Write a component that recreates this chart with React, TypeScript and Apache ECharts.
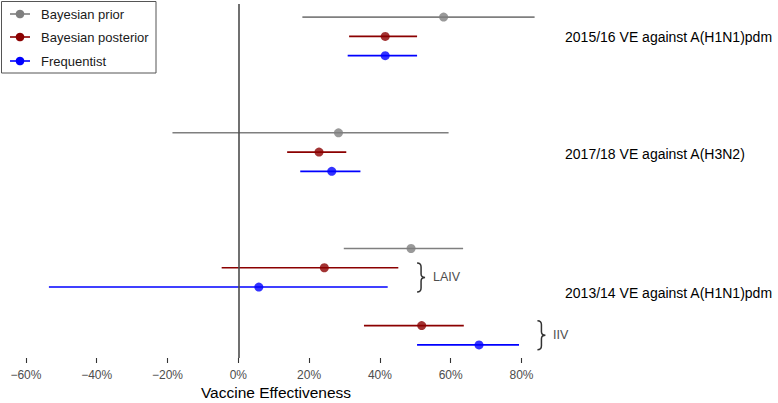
import React, { useEffect, useRef } from "react";
import * as echarts from "echarts";

const seriesNames = ["Bayesian prior", "Bayesian posterior", "Frequentist"];
const seriesColors = ["#7f7f7f", "#8b0000", "#0000ff"];

// rows (top = 0) for each estimate
const priorRows = [0, 6, 12];
const priorMean = [58.0, 28.3, 48.8];
const priorLow = [18.1, -18.6, 29.8];
const priorHigh = [83.7, 59.4, 63.5];

const posteriorRows = [1, 7, 13, 16];
const posteriorMean = [41.5, 22.8, 24.3, 51.8];
const posteriorLow = [31.3, 13.8, -4.7, 35.5];
const posteriorHigh = [50.5, 30.5, 45.2, 63.7];

const freqRows = [2, 8, 14, 17];
const freqMean = [41.5, 26.4, 5.8, 68.0];
const freqLow = [30.9, 17.5, -53.5, 50.5];
const freqHigh = [50.5, 34.5, 42.2, 79.3];

const groupLabels = [
  "2015/16 VE against A(H1N1)pdm",
  "2017/18 VE against A(H3N2)",
  "2013/14 VE against A(H1N1)pdm",
];
const groupLabelRows = [1.05, 7.1, 14.3];
const groupLabelX = 92.3;

const vaccineLabels = ["LAIV", "IIV"];
const vaccineBraceRows = [13.5, 16.5];
const vaccineBraceX = [50.5, 84.5];
const vaccineLabelX = [55.0, 88.9];

const xMin = -60;
const xMax = 80;
const xStep = 20;
const yMin = -0.68;
const yMax = 17.68;

const FONT = "'Liberation Sans', Arial, Helvetica, sans-serif";

const groups = [
  { rows: priorRows, mean: priorMean, low: priorLow, high: priorHigh },
  { rows: posteriorRows, mean: posteriorMean, low: posteriorLow, high: posteriorHigh },
  { rows: freqRows, mean: freqMean, low: freqLow, high: freqHigh },
];

const BRACE_D =
  "M0,-14.5 C2.8,-14.5 4,-13.2 4,-10.5 L4,-3.5 C4,-1.2 5.3,0 8,0 C5.3,0 4,1.2 4,3.5 L4,10.5 C4,13.2 2.8,14.5 0,14.5";
echarts.graphic.registerShape("brace", echarts.graphic.extendPath(BRACE_D, {}) as any);

export default function App() {
  const ref = useRef<HTMLDivElement>(null);

  useEffect(() => {
    document.body.style.margin = "0";
    if (!ref.current) return;
    const chart = echarts.init(ref.current, undefined, { renderer: "svg" });

    const series: any[] = [];
    // vertical reference line at 0
    series.push({
      type: "scatter",
      data: [],
      silent: true,
      markLine: {
        silent: true,
        symbol: ["none", "none"],
        label: { show: false },
        lineStyle: { color: "#4d4d4d", width: 1.6, type: "solid" },
        data: [{ xAxis: 0 }],
      },
    });

    groups.forEach((g, gi) => {
      const color = seriesColors[gi];
      series.push({
        type: "custom",
        name: seriesNames[gi] + " interval",
        clip: false,
        silent: true,
        data: g.rows.map((r, i) => [g.low[i], g.high[i], r]),
        encode: { x: [0, 1], y: 2 },
        renderItem: (params: any, api: any) => {
          const a = api.coord([api.value(0), api.value(2)]);
          const b = api.coord([api.value(1), api.value(2)]);
          return {
            type: "line",
            shape: { x1: a[0], y1: a[1], x2: b[0], y2: b[1] },
            style: { stroke: color, lineWidth: 1.6 },
          };
        },
      });
      series.push({
        type: "scatter",
        name: seriesNames[gi],
        symbol: "circle",
        symbolSize: 9,
        silent: true,
        itemStyle: { color },
        data: g.rows.map((r, i) => [g.mean[i], r]),
      });
    });

    // group labels on the right
    series.push({
      type: "custom",
      clip: false,
      silent: true,
      data: groupLabels.map((t, i) => [groupLabelX, groupLabelRows[i], t]),
      encode: { x: 0, y: 1 },
      renderItem: (params: any, api: any) => {
        const p = api.coord([api.value(0), api.value(1)]);
        return {
          type: "text",
          x: p[0],
          y: p[1],
          style: {
            text: groupLabels[params.dataIndex],
            fill: "#000",
            font: `14px ${FONT}`,
            textAlign: "left",
            textVerticalAlign: "middle",
          },
        };
      },
    });

    // braces + vaccine labels
    series.push({
      type: "custom",
      clip: false,
      silent: true,
      data: vaccineLabels.map((t, i) => [vaccineBraceX[i], vaccineBraceRows[i], vaccineLabelX[i]]),
      encode: { x: 0, y: 1 },
      renderItem: (params: any, api: any) => {
        const p = api.coord([api.value(0), api.value(1)]);
        const q = api.coord([api.value(2), api.value(1)]);
        return {
          type: "group",
          children: [
            {
              type: "brace",
              x: p[0],
              y: p[1],
              style: { fill: "none", stroke: "#333", lineWidth: 1.5 },
            },
            {
              type: "text",
              x: q[0],
              y: p[1],
              style: {
                text: vaccineLabels[params.dataIndex],
                fill: "#4d4d4d",
                font: `12.5px ${FONT}`,
                textAlign: "left",
                textVerticalAlign: "middle",
              },
            },
          ],
        };
      },
    });

    const legendY = [14, 37, 61];
    const legendChildren: any[] = [
      {
        type: "rect",
        shape: { x: 1.5, y: 1.5, width: 154.5, height: 71.5 },
        style: { fill: "#fff", stroke: "#555", lineWidth: 1 },
      },
    ];
    seriesNames.forEach((n, i) => {
      legendChildren.push(
        {
          type: "line",
          shape: { x1: 10, y1: legendY[i], x2: 30, y2: legendY[i] },
          style: { stroke: seriesColors[i], lineWidth: 1.6 },
        },
        {
          type: "circle",
          shape: { cx: 20, cy: legendY[i], r: 4.3 },
          style: { fill: seriesColors[i] },
        },
        {
          type: "text",
          x: 41,
          y: legendY[i],
          style: {
            text: n,
            fill: "#1a1a1a",
            font: `13px ${FONT}`,
            textAlign: "left",
            textVerticalAlign: "middle",
          },
        }
      );
    });

    chart.setOption({
      animation: false,
      grid: { left: 25.9, right: 256.5, top: 4, bottom: 45, containLabel: false },
      xAxis: {
        type: "value",
        position: "bottom",
        min: xMin,
        max: xMax,
        interval: xStep,
        axisLine: { show: false, onZero: false },
        splitLine: { show: false },
        axisTick: { show: true, length: 5, lineStyle: { color: "#333", width: 1.1 } },
        axisLabel: {
          color: "#4d4d4d",
          fontSize: 12,
          fontFamily: FONT,
          margin: 11,
          formatter: (v: number) => (v < 0 ? "\u2212" + Math.abs(v) + "%" : v + "%"),
        },
      },
      yAxis: {
        type: "value",
        inverse: true,
        min: yMin,
        max: yMax,
        show: false,
      },
      graphic: [
        { type: "group", children: legendChildren, z: 100 },
        {
          type: "text",
          x: 276,
          y: 392,
          style: {
            text: "Vaccine Effectiveness",
            fill: "#000",
            font: `15.5px ${FONT}`,
            textAlign: "center",
            textVerticalAlign: "middle",
          },
        },
      ],
      series,
    });

    return () => chart.dispose();
  }, []);

  return <div ref={ref} style={{ width: 778, height: 403 }} />;
}
